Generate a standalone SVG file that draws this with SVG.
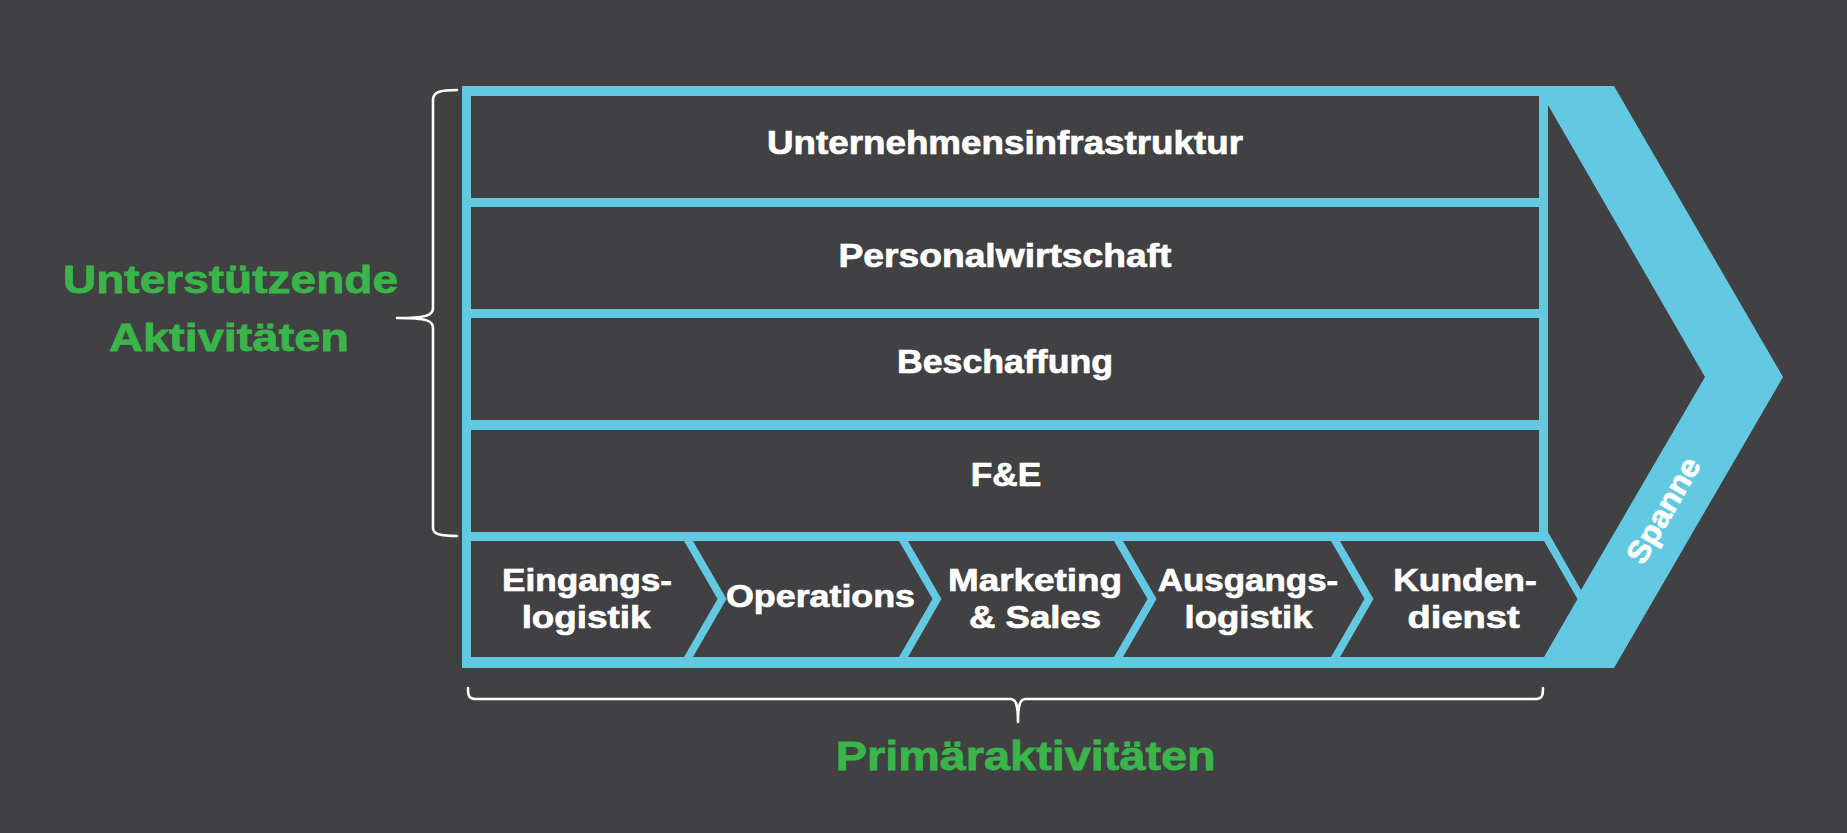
<svg xmlns="http://www.w3.org/2000/svg" width="1847" height="833" viewBox="0 0 1847 833">
<style>
.bg{fill:#414042}
.blue{fill:#63C9E3}
.cell{fill:#414042}
.lbl{font-family:"Liberation Sans",Arial,sans-serif;font-weight:bold;fill:#ffffff;stroke:#ffffff;stroke-width:0.7;text-anchor:middle}
.sup{font-size:32.5px}
.pri{font-size:32px}
.grn{font-family:"Liberation Sans",Arial,sans-serif;font-weight:bold;fill:#3AB54A;stroke:#3AB54A;stroke-width:0.8;text-anchor:middle}
.brace{fill:none;stroke:#ffffff;stroke-width:2.6;stroke-linecap:round;stroke-linejoin:round}
</style>
<rect class="bg" x="0" y="0" width="1847" height="833"/>
<g id="frame">
<polygon class="blue" points="462,86 1614,86 1783,377 1614,668 462,668"/>
<polygon class="cell" points="1548,105 1705,377 1581,590 1548,532"/>
</g>
<g id="node-infra">
<rect class="cell" x="471" y="96" width="1068" height="102"/>
<text class="lbl sup" x="1005" y="154" textLength="476" lengthAdjust="spacingAndGlyphs">Unternehmensinfrastruktur</text>
</g>
<g id="node-personal">
<rect class="cell" x="471" y="207" width="1068" height="102"/>
<text class="lbl sup" x="1005" y="267" textLength="333" lengthAdjust="spacingAndGlyphs">Personalwirtschaft</text>
</g>
<g id="node-beschaffung">
<rect class="cell" x="471" y="318" width="1068" height="102"/>
<text class="lbl sup" x="1005" y="373" textLength="216" lengthAdjust="spacingAndGlyphs">Beschaffung</text>
</g>
<g id="node-fe">
<rect class="cell" x="471" y="430" width="1068" height="102"/>
<text class="lbl sup" x="1006" y="486" textLength="70.5" lengthAdjust="spacingAndGlyphs">F&amp;E</text>
</g>
<g id="node-eingang">
<polygon class="cell" points="471,541 684,541 717.5,599 684,657 471,657"/>
<text class="lbl pri" x="587" y="591" textLength="170" lengthAdjust="spacingAndGlyphs">Eingangs-</text>
<text class="lbl pri" x="586" y="628" textLength="128.7" lengthAdjust="spacingAndGlyphs">logistik</text>
</g>
<g id="node-operations">
<polygon class="cell" points="693,541 899,541 932.5,599 899,657 693,657 726.5,599"/>
<text class="lbl pri" x="820.5" y="607" textLength="189" lengthAdjust="spacingAndGlyphs">Operations</text>
</g>
<g id="node-marketing">
<polygon class="cell" points="908,541 1114,541 1147.5,599 1114,657 908,657 941.5,599"/>
<text class="lbl pri" x="1035" y="591" textLength="174" lengthAdjust="spacingAndGlyphs">Marketing</text>
<text class="lbl pri" x="1035" y="628" textLength="132" lengthAdjust="spacingAndGlyphs">&amp; Sales</text>
</g>
<g id="node-ausgang">
<polygon class="cell" points="1123,541 1331,541 1364.5,599 1331,657 1123,657 1156.5,599"/>
<text class="lbl pri" x="1248" y="591" textLength="180.4" lengthAdjust="spacingAndGlyphs">Ausgangs-</text>
<text class="lbl pri" x="1248.5" y="628" textLength="128" lengthAdjust="spacingAndGlyphs">logistik</text>
</g>
<g id="node-kunden">
<polygon class="cell" points="1340,541 1544,541 1577.5,599 1544,657 1340,657 1373.5,599"/>
<text class="lbl pri" x="1465" y="591" textLength="143.5" lengthAdjust="spacingAndGlyphs">Kunden-</text>
<text class="lbl pri" x="1463.6" y="628" textLength="112" lengthAdjust="spacingAndGlyphs">dienst</text>
</g>
<g id="node-spanne">
<text class="lbl" font-size="31" transform="translate(1663,510) rotate(-60)" x="0" y="11" textLength="117" lengthAdjust="spacingAndGlyphs">Spanne</text>
</g>
<g id="connectors">
<path class="brace" d="M457,90 C440,90 433,92 433,100 L433,308 C433,315 428,318 397,318 C428,318 433,321 433,328 L433,528 C433,534 440,536 457,536"/>
<path class="brace" d="M468,688 C468,696 469,699 476,699 L1010,699 C1015,699 1018,702 1018,722 C1018,702 1021,699 1026,699 L1535,699 C1542,699 1543,696 1543,688"/>
</g>
<g id="label-support">
<text class="grn" font-size="39.5" x="230.5" y="293.3" textLength="335" lengthAdjust="spacingAndGlyphs">Unterstützende</text>
<text class="grn" font-size="39.5" x="229" y="350.7" textLength="240" lengthAdjust="spacingAndGlyphs">Aktivitäten</text>
</g>
<g id="label-primary">
<text class="grn" font-size="41" x="1025.7" y="770" textLength="380" lengthAdjust="spacingAndGlyphs">Primäraktivitäten</text>
</g>
</svg>
